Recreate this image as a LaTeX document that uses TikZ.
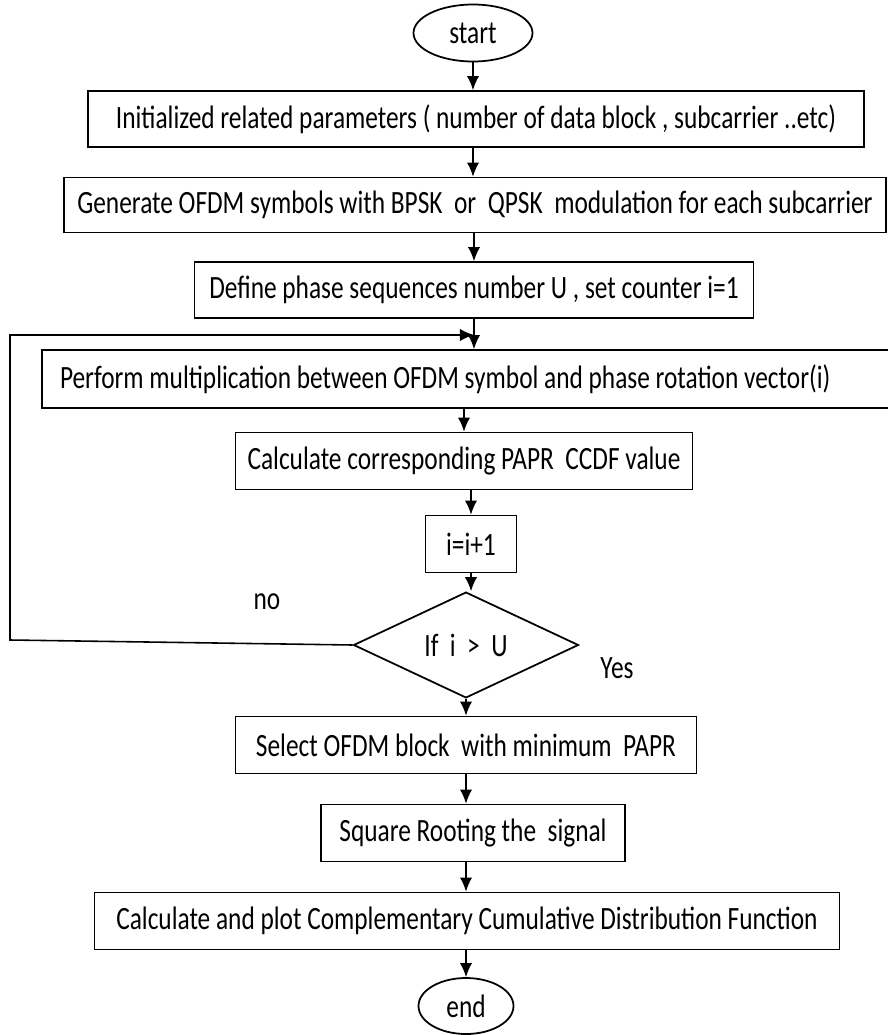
\documentclass[tikz,border=0pt]{standalone}
\usepackage{fontspec}
\setmainfont{Carlito}[FakeStretch=0.78]
\usepackage{tikz}
\usetikzlibrary{shapes.geometric}
\usetikzlibrary{arrows.meta}
\tikzset{
  Kasten/.style 2 args={draw,line width=1pt,minimum width=#1*0.02cm,minimum height=#2*0.02cm,inner sep=0pt}, % Rechteck
  Oval/.style 2 args={draw,line width=1pt,ellipse,minimum width=#1*0.02cm,minimum height=#2*0.02cm,inner sep=0pt}, % Start/Ende
  Raute/.style 2 args={draw,line width=1pt,diamond,minimum width=#1*0.02cm,minimum height=#2*0.02cm,inner sep=0pt}, % Abfrage
  Pfeil/.style={line width=0.9pt,->} % Verbindungen
}

\begin{document}
\begin{tikzpicture}[
x=0.02cm, y=-0.02cm,
font=\fontsize{18.5}{21}\selectfont,
>={Latex[length=8pt,width=7pt]} % Pfeilspitzen
]
\useasboundingbox (0,0) rectangle (888,1035);

%Knoten
\node[Oval={119}{57}] (start) at (473,33) {start};
\node[Kasten={776}{56}] (init) at (476,119)
  {Initialized related parameters ( number of data block , subcarrier ..etc)};
\node[Kasten={822}{55}] (gen) at (475,205)
  {Generate OFDM symbols with BPSK\ \ or\ \ QPSK\ \ modulation for each subcarrier};
\node[Kasten={559}{56}] (def) at (474,290)
  {Define phase sequences number U , set counter i=1};
\node[Kasten={878}{58},align=flush left,text width=842*0.02cm,inner xsep=18*0.02cm] (mult) at (481,379)
  {Perform multiplication between OFDM symbol and phase rotation vector(i)};
\node[Kasten={457}{57}] (papr) at (464,461)
  {Calculate corresponding PAPR\ \ CCDF value};
\node[Kasten={91}{57}] (inc) at (471,544) {i=i+1};
\node[Raute={225}{84}] (abfrage) at (466,645) {If\ \ i\ \ >\ \ U};
\node[Kasten={461}{57}] (sel) at (466,745)
  {Select OFDM block\ \ with minimum\ \ PAPR};
\node[Kasten={304}{57}] (root) at (473,833)
  {Square Rooting the\ \ signal};
\node[Kasten={745}{57}] (ccdf) at (467,921)
  {Calculate and plot Complementary Cumulative Distribution Function};
\node[Oval={95}{56}] (ende) at (466,1006) {end};

\node (nein) at (267,602) {no};
\node (ja) at (617,668) {Yes};

%Verbindungen
\draw[Pfeil] (start) -- (start |- init.north);
\draw[Pfeil] (init.south -| start) -- (start |- gen.north);
\draw[Pfeil] (gen.south -| def) -- (def);
\draw[Pfeil] (def) -- (def |- mult.north);
\draw[Pfeil] (mult.south -| papr) -- (papr);
\draw[Pfeil] (papr.south -| inc) -- (inc);
\draw[Pfeil] (inc) -- (inc |- abfrage.north);
\draw[Pfeil] (abfrage) -- (abfrage |- sel.north);
\draw[Pfeil] (sel) -- (sel |- root.north);
\draw[Pfeil] (root.south -| sel) -- (sel |- ccdf.north);
\draw[Pfeil] (ccdf.south -| ende) -- (ende);

%Rueckfuehrung
\coordinate (L1) at (10,640);
\coordinate (L2) at (10,335);
\draw[Pfeil] (abfrage.west) -- (L1) -- (L2) -- (L2 -| def);

\end{tikzpicture}
\end{document}
